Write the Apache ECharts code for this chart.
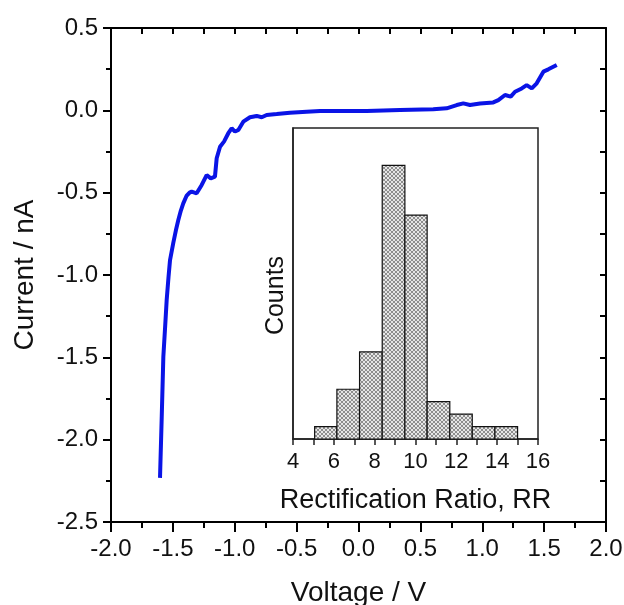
<!DOCTYPE html>
<html>
<head>
<meta charset="utf-8">
<script src="https://cdn.jsdelivr.net/npm/echarts@6/dist/echarts.min.js"></script>
<style>
  html, body { margin: 0; padding: 0; background: #fff; }
  #chart { width: 624px; height: 605px; }
</style>
</head>
<body>
<div id="chart"></div>
<script>
// I-V curve
var voltage = [-1.604, -1.59, -1.577, -1.563, -1.55, -1.535, -1.523, -1.497, -1.476, -1.456,
  -1.436, -1.416, -1.39, -1.365, -1.348, -1.308, -1.267, -1.227, -1.194, -1.16,
  -1.146, -1.119, -1.087, -1.052, -1.025, -0.998, -0.971, -0.931, -0.877, -0.823,
  -0.782, -0.742, -0.661, -0.554, -0.419, -0.311, -0.204, 0.066, 0.335, 0.604,
  0.712, 0.794, 0.847, 0.901, 0.982, 1.089, 1.13, 1.184, 1.23, 1.265,
  1.319, 1.359, 1.4, 1.44, 1.494, 1.534, 1.602]
var current = [-2.232, -1.86, -1.496, -1.32, -1.151, -1.01, -0.909, -0.807, -0.73, -0.666,
  -0.61, -0.565, -0.52, -0.5, -0.494, -0.504, -0.453, -0.393, -0.413, -0.403,
  -0.291, -0.221, -0.19, -0.139, -0.109, -0.129, -0.119, -0.069, -0.042, -0.034,
  -0.042, -0.028, -0.022, -0.014, -0.008, -0.004, -0.004, -0.004, 0.002, 0.006,
  0.012, 0.032, 0.042, 0.032, 0.042, 0.048, 0.062, 0.093, 0.083, 0.113,
  0.133, 0.153, 0.133, 0.164, 0.235, 0.249, 0.275]

// inset histogram
var binStart = [5.06, 6.15, 7.26, 8.37, 9.48, 10.57, 11.68, 12.78, 13.89]
var binEnd = [6.15, 7.26, 8.37, 9.48, 10.57, 11.68, 12.78, 13.89, 15.0]
var counts = [1, 4, 7, 22, 18, 3, 2, 1, 1]
var insetTickLabels = ['4', '6', '8', '10', '12', '14', '16']

var font = 'Liberation Sans, Arial, sans-serif'

function hatch() {
  var c = document.createElement('canvas')
  c.width = 4
  c.height = 4
  var ctx = c.getContext('2d')
  ctx.fillStyle = '#e6e6e6'
  ctx.fillRect(0, 0, 4, 4)
  ctx.strokeStyle = '#777'
  ctx.lineWidth = 0.8
  ctx.beginPath()
  ctx.moveTo(0, 0); ctx.lineTo(4, 4)
  ctx.moveTo(4, 0); ctx.lineTo(0, 4)
  ctx.stroke()
  return c
}

var chart = echarts.init(document.getElementById('chart'))

var histData = binStart.map(function (s, i) {
  return [s, binEnd[i], counts[i]]
})

chart.setOption({
  animation: false,
  grid: [
    { left: 111, right: 18, top: 28, bottom: 83, outerBoundsMode: 'none' },
    { left: 293, right: 86, top: 128, bottom: 166, outerBoundsMode: 'none', show: true, borderColor: '#222', borderWidth: 1.5, backgroundColor: '#fff' }
  ],
  xAxis: [
    {
      gridIndex: 0, type: 'value', min: -2, max: 2, interval: 0.5,
      name: 'Voltage / V', nameLocation: 'middle', nameGap: 57,
      nameTextStyle: { fontFamily: font, fontSize: 28, color: '#111' },
      axisLine: { onZero: false, lineStyle: { color: '#000', width: 2 } },
      axisTick: { inside: false, length: 10, lineStyle: { color: '#000', width: 2 } },
      minorTick: { show: true, splitNumber: 2, length: 6, lineStyle: { color: '#000', width: 2 } },
      axisLabel: { fontFamily: font, fontSize: 24, color: '#111', margin: 15, formatter: function (v) { return v.toFixed(1) } },
      splitLine: { show: false }
    },
    {
      gridIndex: 0, type: 'value', position: 'top', min: -2, max: 2, interval: 0.25,
      axisLine: { onZero: false, lineStyle: { color: '#000', width: 2 } },
      axisTick: { inside: true, length: 6, lineStyle: { color: '#000', width: 2 } },
      axisLabel: { show: false },
      splitLine: { show: false }
    },
    {
      gridIndex: 1, type: 'value', min: 4, max: 16, interval: 1,
      name: 'Rectification Ratio, RR', nameLocation: 'middle', nameGap: 48,
      nameTextStyle: { fontFamily: font, fontSize: 27, color: '#111' },
      axisLine: { onZero: false, lineStyle: { color: '#222', width: 1.5 } },
      axisTick: { inside: false, length: 6, lineStyle: { color: '#222', width: 1.5 } },
      axisLabel: {
        fontFamily: font, fontSize: 22, color: '#111', margin: 12,
        formatter: function (v) { return insetTickLabels.indexOf(String(v)) >= 0 ? String(v) : '' }
      },
      splitLine: { show: false }
    }
  ],
  yAxis: [
    {
      gridIndex: 0, type: 'value', min: -2.5, max: 0.5, interval: 0.5,
      name: 'Current / nA', nameLocation: 'middle', nameGap: 72,
      nameTextStyle: { fontFamily: font, fontSize: 28, color: '#111' },
      axisLine: { onZero: false, lineStyle: { color: '#000', width: 2 } },
      axisTick: { inside: false, length: 8, lineStyle: { color: '#000', width: 2 } },
      minorTick: { show: true, splitNumber: 2, length: 5, lineStyle: { color: '#000', width: 2 } },
      axisLabel: { fontFamily: font, fontSize: 24, color: '#111', margin: 13, formatter: function (v) { return v.toFixed(1) } },
      splitLine: { show: false }
    },
    {
      gridIndex: 0, type: 'value', position: 'right', min: -2.5, max: 0.5, interval: 0.25,
      axisLine: { onZero: false, lineStyle: { color: '#000', width: 2 } },
      axisTick: { inside: true, length: 6, lineStyle: { color: '#000', width: 2 } },
      axisLabel: { show: false },
      splitLine: { show: false }
    },
    {
      gridIndex: 1, type: 'value', min: 0, max: 25,
      name: 'Counts', nameLocation: 'middle', nameGap: 4,
      nameTextStyle: { fontFamily: font, fontSize: 25, color: '#111', padding: [0, 24, 0, 0] },
      axisLine: { show: true, onZero: false, lineStyle: { color: '#222', width: 1.5 } },
      axisTick: { show: false },
      axisLabel: { show: false },
      splitLine: { show: false }
    }
  ],
  series: [
    {
      type: 'line',
      xAxisIndex: 0,
      yAxisIndex: 0,
      data: voltage.map(function (v, i) { return [v, current[i]] }),
      showSymbol: false,
      smooth: false,
      lineStyle: { color: '#0a14e6', width: 4 },
      z: 1
    },
    {
      type: 'custom',
      xAxisIndex: 2,
      yAxisIndex: 2,
      data: histData,
      encode: { x: [0, 1], y: 2 },
      renderItem: function (params, api) {
        var p0 = api.coord([api.value(0), api.value(2)])
        var p1 = api.coord([api.value(1), 0])
        return {
          type: 'rect',
          shape: { x: p0[0], y: p0[1], width: p1[0] - p0[0], height: p1[1] - p0[1] },
          style: {
            fill: { image: hatch(), repeat: 'repeat' },
            stroke: '#111',
            lineWidth: 1.2
          }
        }
      },
      z: 5
    }
  ]
})
</script>
</body>
</html>
